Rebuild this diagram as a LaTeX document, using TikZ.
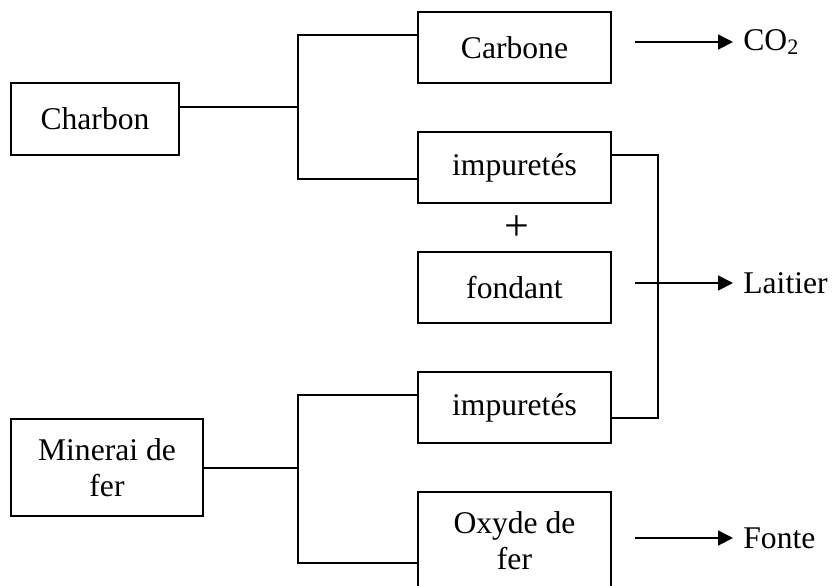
\documentclass[tikz,border=0pt]{standalone}
\usepackage{fontspec}
\setmainfont{Liberation Serif}
\usetikzlibrary{arrows.meta,calc}
\begin{document}
\begin{tikzpicture}[x=0.5pt,y=-0.5pt,
 txt/.style={font=\fontsize{15.8}{18}\selectfont},
 box/.style={draw,line width=0.9pt,minimum width=96.5pt,minimum height=35.5pt,inner sep=0pt,align=center,txt},
 ln/.style={line width=0.9pt},
 arr/.style={line width=0.9pt,-{Triangle[length=7.5pt,width=7.5pt]},shorten >=5pt},
 lab/.style={anchor=west,inner sep=0pt,txt}]
\path[use as bounding box] (0,0) rectangle (837,585);
\clip (0,0) rectangle (837,585);
% boxes
\node[box,minimum width=84pt,minimum height=36pt] (charbon) at (95,119) {Charbon};
\node[box] (carbone) at (514.5,47.5) {Carbone};
\node[box] (imp1) at (514.5,167.5) {impuretés};
\node[inner sep=0pt,font=\fontsize{22}{22}\selectfont] (plus) at (517,228) {+};
\node[box] (fondant) at (514.5,287.5) {fondant};
\node[box] (imp2) at (514.5,407.5) {impuretés};
\node[box,minimum width=96pt,minimum height=48.5pt] (minerai) at (107,467.5) {Minerai de\\fer};
\node[box,minimum height=49pt] (oxyde) at (514.5,541) {Oxyde de\\fer};
% labels
\node[lab] (co2) at (743,42) {CO\textsubscript{2}};
\node[lab] (laitier) at (743,283) {Laitier};
\node[lab] (fonte) at (743,538) {Fonte};
% charbon fork
\coordinate (j1) at (298,107);
\coordinate (j1t) at (298,35);
\coordinate (j1b) at (298,179);
\draw[ln] (charbon.east |- j1) -- (j1);
\draw[ln] (carbone.west |- j1t) -- (j1t) -- (j1b) -- (imp1.west |- j1b);
% minerai fork
\coordinate (j2) at (298,468);
\coordinate (j2t) at (298,395);
\coordinate (j2b) at (298,563);
\draw[ln] (minerai.east |- j2) -- (j2);
\draw[ln] (imp2.west |- j2t) -- (j2t) -- (j2b) -- (oxyde.west |- j2b);
% impuretes bracket
\coordinate (r1) at (658,155);
\coordinate (r2) at (658,418);
\draw[ln] (imp1.east |- r1) -- (r1) -- (r2) -- (imp2.east |- r2);
% arrows
\coordinate (a1) at (635,42);
\coordinate (a2) at (635,283);
\coordinate (a3) at (635,538);
\draw[arr] (a1) -- (co2.west |- a1);
\draw[arr] (a2) -- (laitier.west |- a2);
\draw[arr] (a3) -- (fonte.west |- a3);
\end{tikzpicture}
\end{document}
